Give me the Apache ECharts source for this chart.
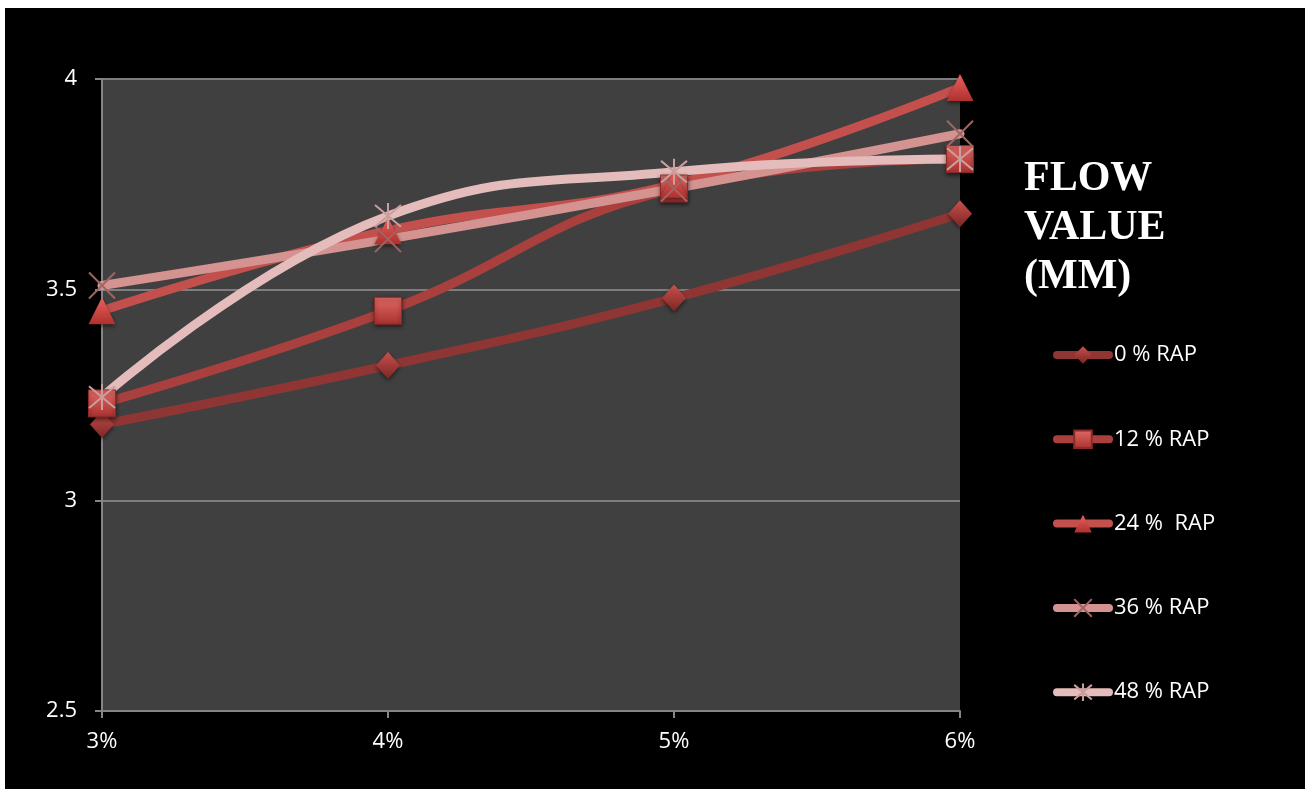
<!DOCTYPE html>
<html>
<head>
<meta charset="utf-8">
<script src="https://cdn.jsdelivr.net/npm/echarts@6/dist/echarts.min.js"></script>
<style>
  html, body { margin: 0; padding: 0; background: #ffffff; }
  #chart { position: absolute; left: 5px; top: 8px; width: 1300px; height: 781px; background: #000000; }
</style>
</head>
<body>
<div id="chart"></div>
<script>
const categories = ["3%", "4%", "5%", "6%"];
const seriesNames = ["0 % RAP", "12 % RAP", "24 %  RAP", "36 % RAP", "48 % RAP"];
const rap0 = [3.18, 3.32, 3.48, 3.68];
const rap12 = [3.23, 3.45, 3.74, 3.81];
const rap24 = [3.45, 3.64, 3.75, 3.98];
const rap36 = [3.51, 3.62, 3.74, 3.87];
const rap48 = [3.245, 3.675, 3.78, 3.81];
const titleLines = ["FLOW", "VALUE", "(MM)"];

const FONT = "'Open Sans', 'DejaVu Sans', sans-serif";

function grad(top, bottom) {
  return new echarts.graphic.LinearGradient(0, 0, 0, 1, [
    { offset: 0, color: top },
    { offset: 1, color: bottom }
  ]);
}

const markerShadow = {
  shadowBlur: 4,
  shadowColor: "rgba(0,0,0,0.55)",
  shadowOffsetY: 2
};

function lineSeries(name, data, lineColor, symbol, size, itemStyle) {
  return {
    name: name,
    type: "line",
    data: data,
    smooth: 0.45,
    symbol: symbol,
    symbolSize: size,
    showAllSymbol: true,
    lineStyle: { color: lineColor, width: 9, cap: "round" },
    itemStyle: itemStyle,
    emphasis: { disabled: true },
    z: 3
  };
}

const chart = echarts.init(document.getElementById("chart"));

chart.setOption({
  backgroundColor: "#000000",
  animation: false,
  title: {
    text: titleLines.join("\n"),
    left: 1014,
    top: 142,
    textStyle: {
      color: "#ffffff",
      fontFamily: "'Liberation Serif', 'Times New Roman', serif",
      fontWeight: "bold",
      fontSize: 42,
      lineHeight: 49
    }
  },
  legend: {
    orient: "vertical",
    left: 1043,
    top: 331,
    itemWidth: 52,
    itemHeight: 22,
    itemGap: 62.3,
    data: seriesNames,
    lineStyle: { width: 8, cap: "round" },
    textStyle: { color: "#ffffff", fontFamily: FONT, fontSize: 22 }
  },
  grid: {
    left: 97,
    top: 71,
    width: 858,
    height: 632,
    show: true,
    backgroundColor: "#404040",
    borderWidth: 0
  },
  xAxis: {
    type: "category",
    data: categories,
    boundaryGap: false,
    axisLine: { lineStyle: { color: "#858585", width: 2 } },
    axisTick: { show: true, length: 7, alignWithLabel: true, lineStyle: { color: "#858585", width: 2 } },
    axisLabel: { color: "#ffffff", fontFamily: FONT, fontSize: 22, margin: 20 },
    splitLine: { show: false }
  },
  yAxis: {
    type: "value",
    min: 2.5,
    max: 4,
    interval: 0.5,
    axisLine: { show: true, lineStyle: { color: "#858585", width: 2 } },
    axisTick: { show: true, length: 7, lineStyle: { color: "#858585", width: 2 } },
    axisLabel: { color: "#ffffff", fontFamily: FONT, fontSize: 22, margin: 25 },
    splitLine: { show: true, lineStyle: { color: "#7e7e7e", width: 2 } }
  },
  series: [
    lineSeries(seriesNames[0], rap0, "#8f3634", "diamond", [24, 27],
      Object.assign({ color: grad("#c9504c", "#7a2624") }, markerShadow)),
    lineSeries(seriesNames[1], rap12, "#a9403d", "rect", [27, 27],
      Object.assign({ color: grad("#e26a66", "#a8302d"), borderColor: "#8c2a28", borderWidth: 1 }, markerShadow)),
    lineSeries(seriesNames[2], rap24, "#c4504d", "triangle", [27, 27],
      Object.assign({ color: grad("#e8625e", "#b0302d") }, markerShadow)),
    lineSeries(seriesNames[3], rap36, "#d49290", "path://M0,0L10,10M10,0L0,10", [26, 26],
      { color: "rgba(0,0,0,0)", borderColor: "#a06462", borderWidth: 2 }),
    lineSeries(seriesNames[4], rap48, "#e3bcbb", "path://M0,0L10,10M10,0L0,10M5,-1L5,11", [26, 26],
      { color: "rgba(0,0,0,0)", borderColor: "#c99e9c", borderWidth: 2 })
  ]
});
</script>
</body>
</html>
